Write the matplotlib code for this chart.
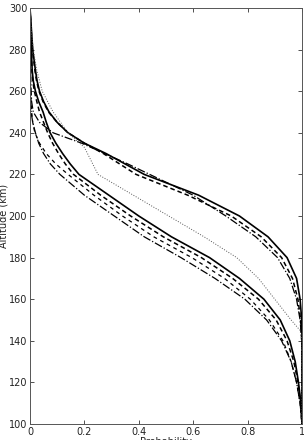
import numpy as np
import matplotlib
matplotlib.use("Agg")
import matplotlib.pyplot as plt

# altitude grid (km)
alt = [300, 290, 280, 270, 265, 260, 255, 250, 245, 240, 235, 230, 225, 220,
       210, 200, 190, 180, 170, 160, 150, 140, 130, 120, 110, 100]

# upper group
up_solid = [0.0, 0.005, 0.01, 0.02, 0.026, 0.035, 0.05, 0.07, 0.1, 0.14, 0.2, 0.28, 0.35, 0.42,
            0.62, 0.77, 0.875, 0.945, 0.98, 0.993, 0.999, 1.0, 1.0, 1.0, 1.0, 1.0]
up_dash = [0.0, 0.004, 0.009, 0.018, 0.024, 0.033, 0.048, 0.068, 0.1, 0.14, 0.2, 0.27, 0.33, 0.39,
           0.58, 0.74, 0.85, 0.925, 0.965, 0.985, 0.995, 0.999, 1.0, 1.0, 1.0, 1.0]
up_dashdot = [0.0, 0.0, 0.0, 0.002, 0.003, 0.004, 0.006, 0.012, 0.035, 0.085, 0.19, 0.275, 0.36, 0.44,
              0.6, 0.72, 0.83, 0.91, 0.955, 0.98, 0.993, 0.999, 1.0, 1.0, 1.0, 1.0]

# lower group
lo_solid = [0.0, 0.003, 0.005, 0.008, 0.012, 0.02, 0.032, 0.048, 0.06, 0.074, 0.095, 0.12, 0.148, 0.18,
            0.29, 0.4, 0.52, 0.66, 0.77, 0.86, 0.92, 0.955, 0.975, 0.987, 0.996, 1.0]
lo_dash1 = [0.0, 0.002, 0.004, 0.007, 0.01, 0.016, 0.025, 0.035, 0.05, 0.065, 0.083, 0.105, 0.13, 0.16,
            0.26, 0.37, 0.49, 0.63, 0.745, 0.84, 0.905, 0.945, 0.97, 0.985, 0.995, 1.0]
lo_dash2 = [0.0, 0.0, 0.0, 0.001, 0.0015, 0.002, 0.004, 0.006, 0.01, 0.018, 0.035, 0.06, 0.095, 0.14,
            0.235, 0.34, 0.455, 0.595, 0.715, 0.81, 0.88, 0.93, 0.96, 0.98, 0.993, 1.0]
lo_dashdot = [0.0, 0.0, 0.0, 0.001, 0.001, 0.002, 0.003, 0.004, 0.01, 0.02, 0.032, 0.05, 0.075, 0.11,
              0.2, 0.31, 0.42, 0.555, 0.68, 0.79, 0.87, 0.925, 0.96, 0.98, 0.993, 1.0]

# dotted curve (its own altitude points)
dot_alt = [300, 290, 280, 270, 260, 250, 240, 233, 220, 210, 200,
           190, 180, 170, 160, 150, 145, 140, 100]
dot_p = [0.0, 0.004, 0.012, 0.025, 0.045, 0.085, 0.14, 0.2, 0.25, 0.38, 0.51,
         0.64, 0.76, 0.84, 0.9, 0.96, 0.993, 1.0, 1.0]

fig = plt.figure(figsize=(3.04, 4.40), dpi=100)
ax = fig.add_axes([30 / 304, 16 / 440, 272 / 304, 416 / 440])

ax.plot(up_solid, alt, color="black", lw=1.2, ls="-")
ax.plot(up_dash, alt, color="black", lw=1.1, ls="--", dashes=(3, 2))
ax.plot(up_dashdot, alt, color="black", lw=0.9, ls="-.")
ax.plot(lo_solid, alt, color="black", lw=1.2, ls="-")
ax.plot(lo_dash1, alt, color="black", lw=1.1, ls="--", dashes=(3, 2))
ax.plot(lo_dash2, alt, color="black", lw=0.9, ls="--", dashes=(3, 3))
ax.plot(lo_dashdot, alt, color="black", lw=0.9, ls="-.")
ax.plot(dot_p, dot_alt, color="#555555", lw=0.7, ls=":")

ax.set_xlim(0, 1)
ax.set_ylim(100, 300)
ax.set_xticks([0, 0.2, 0.4, 0.6, 0.8, 1])
ax.set_xticklabels(["0", "0.2", "0.4", "0.6", "0.8", "1"])
ax.set_yticks(np.arange(100, 301, 20))
ax.tick_params(direction="in", top=True, right=True, labelsize=7, length=3,
               width=0.6, pad=2, colors="#333333", labelcolor="#222222")
for s in ax.spines.values():
    s.set_linewidth(0.7)
    s.set_color("#555555")
ax.set_ylabel("Altitude (km)", fontsize=7, labelpad=0, color="#222222")
ax.set_xlabel("Probability", fontsize=7, labelpad=0, color="#222222")

fig.savefig("out.png", dpi=100)
